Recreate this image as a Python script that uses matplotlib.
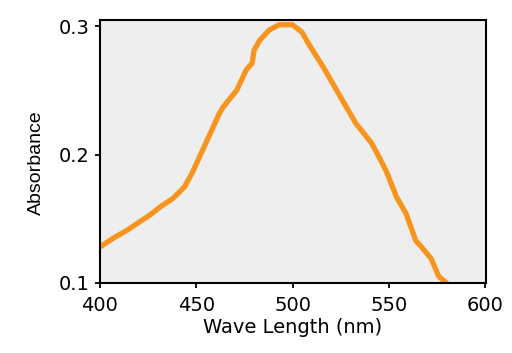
import matplotlib
matplotlib.use("Agg")
import matplotlib.pyplot as plt

# absorbance spectrum
wavelength = [400, 407, 414, 420, 426, 432, 438, 444, 448, 455, 462, 464, 471,
              476, 479, 480, 483, 488, 493, 500, 505, 508, 516, 526, 533, 541,
              545, 549, 554, 559, 564, 567, 572, 576, 580]
absorbance = [0.128, 0.135, 0.141, 0.147, 0.153, 0.160, 0.166, 0.175, 0.186,
              0.209, 0.232, 0.237, 0.250, 0.266, 0.271, 0.281, 0.289, 0.297,
              0.301, 0.301, 0.295, 0.287, 0.268, 0.242, 0.224, 0.209, 0.198,
              0.186, 0.167, 0.154, 0.133, 0.128, 0.119, 0.105, 0.100]

x_ticks = [400, 450, 500, 550, 600]
y_ticks = [0.1, 0.2, 0.3]
y_tick_labels = ["0.1", "0.2", "0.3"]

fig = plt.figure(figsize=(5.12, 3.53), dpi=100)
ax = fig.add_axes([100 / 512, 1 - 283 / 353, 386 / 512, 263 / 353])
ax.set_facecolor("#eeeeee")

ax.plot(wavelength, absorbance, color="#f7941d", linewidth=3.8,
        solid_capstyle="round", solid_joinstyle="round")

ax.set_xlim(400, 600.5)
ax.set_ylim(0.1, 0.3047)
ax.set_xticks(x_ticks)
ax.set_yticks(y_ticks)
ax.set_yticklabels(y_tick_labels)

for side in ["left", "right", "top", "bottom"]:
    ax.spines[side].set_linewidth(1.5)
    ax.spines[side].set_color("black")

ax.tick_params(axis="both", direction="out", length=3.5, width=1.3,
               labelsize=14, colors="black")
ax.tick_params(axis="x", pad=6)
ax.tick_params(axis="y", pad=4)

ax.set_xlabel("Wave Length (nm)", fontsize=14, labelpad=2)
ax.set_ylabel("Absorbance", fontsize=14, family="Liberation Sans")
ax.yaxis.set_label_coords(-0.142, 0.456)

fig.savefig("out.png", dpi=100)
